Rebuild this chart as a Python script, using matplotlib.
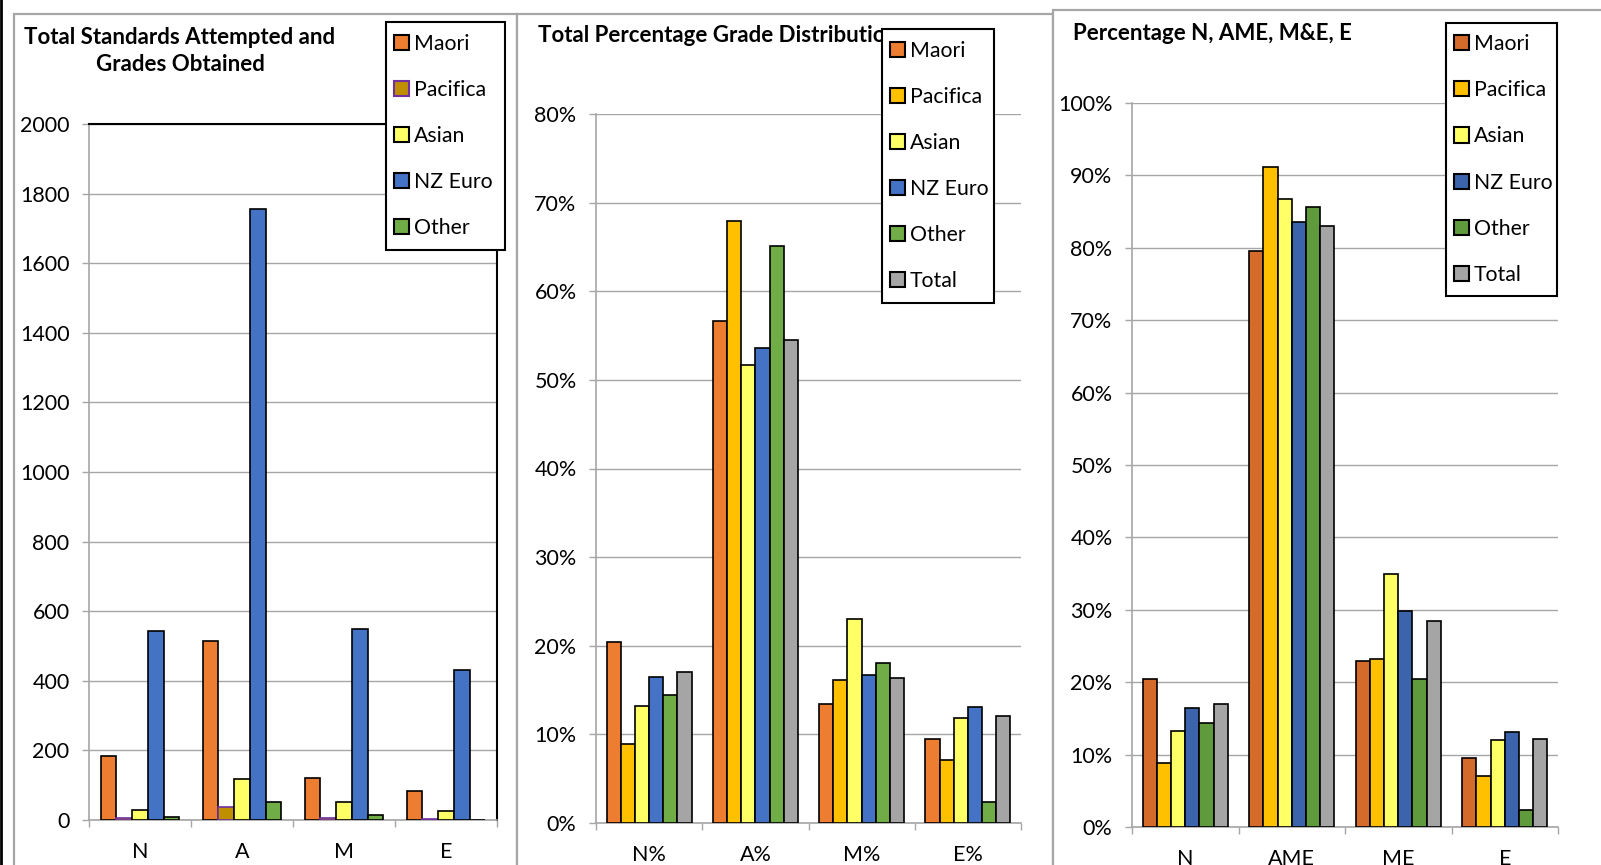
import matplotlib.pyplot as plt
from matplotlib.patches import Rectangle, Patch
from matplotlib.lines import Line2D

plt.rcParams['font.family'] = ['Lato', 'DejaVu Sans']

W, H = 1601, 865

# ---- data ----
series5 = ['Maori', 'Pacifica', 'Asian', 'NZ Euro', 'Other']
series6 = ['Maori', 'Pacifica', 'Asian', 'NZ Euro', 'Other', 'Total']

grades1 = ['N', 'A', 'M', 'E']
maori_cnt = [184, 513, 120, 84]
pacifica_cnt = [5, 37, 7, 3]
asian_cnt = [29, 118, 53, 27]
nzeuro_cnt = [544, 1756, 550, 432]
other_cnt = [10, 53, 14, 1]

grades2 = ['N%', 'A%', 'M%', 'E%']
maori_pct = [20.4, 56.6, 13.4, 9.5]
pacifica_pct = [8.9, 67.9, 16.1, 7.1]
asian_pct = [13.2, 51.7, 23.0, 11.9]
nzeuro_pct = [16.5, 53.6, 16.7, 13.1]
other_pct = [14.4, 65.1, 18.1, 2.4]
total_pct = [17.0, 54.5, 16.4, 12.1]

grades3 = ['N', 'AME', 'ME', 'E']
maori_grp = [20.4, 79.6, 22.9, 9.5]
pacifica_grp = [8.9, 91.1, 23.2, 7.1]
asian_grp = [13.2, 86.7, 35.0, 12.0]
nzeuro_grp = [16.5, 83.5, 29.9, 13.1]
other_grp = [14.4, 85.6, 20.4, 2.4]
total_grp = [17.0, 83.0, 28.5, 12.1]

colors1 = ['#ED7D31', '#BF8F00', '#FFFF66', '#4472C4', '#70AD47']
edges1 = ['black', '#7030A0', 'black', 'black', 'black']
colors2 = ['#ED7D31', '#FFC000', '#FFFF66', '#4472C4', '#70AD47', '#A5A5A5']
colors3 = ['#D46B2A', '#FFC000', '#FFFF66', '#3B64AD', '#5F9A3C', '#A5A5A5']

GRID = '#A6A6A6'

fig = plt.figure(figsize=(W / 100, H / 100), dpi=100)


def px_axes(left, top, right, bottom):
    return fig.add_axes([left / W, 1 - bottom / H, (right - left) / W, (bottom - top) / H])


def bars(ax, cats, data, colors, edges):
    n = len(data)
    w = 1 / (n + 1.5)
    xs = range(len(cats))
    for i, vals in enumerate(data):
        off = (i - (n - 1) / 2) * w
        ax.bar([x + off for x in xs], vals, width=w, color=colors[i],
               edgecolor=edges[i], linewidth=1.2, zorder=3)
    ax.set_xlim(-0.5, len(cats) - 0.5)
    ax.set_xticks([x - 0.5 for x in range(len(cats) + 1)])
    ax.set_xticklabels([])
    ax.set_xticks(list(xs), minor=True)
    ax.set_xticklabels(cats, minor=True)
    ax.tick_params(axis='x', which='major', length=5, color=GRID, width=1)
    ax.tick_params(axis='x', which='minor', length=0, pad=16, labelsize=15.5)
    ax.tick_params(axis='y', length=5, color=GRID, width=1, pad=9, labelsize=15.5)
    ax.grid(axis='y', color=GRID, linewidth=1, zorder=0)
    ax.set_axisbelow(True)
    for s in ['left', 'bottom']:
        ax.spines[s].set_color(GRID)
        ax.spines[s].set_linewidth(1.2)


def legend(names, colors, edges, x0, y0, x1, y1):
    # legend box drawn separately so its padding matches the original
    fig.add_artist(Rectangle((x0 / W, 1 - y1 / H), (x1 - x0) / W, (y1 - y0) / H,
                             transform=fig.transFigure, facecolor='white',
                             edgecolor='black', linewidth=1.5, zorder=9))
    handles = [Patch(facecolor=c, edgecolor=e, linewidth=1.5) for c, e in zip(colors, edges)]
    lg = fig.legend(handles, names, loc='center left',
                    bbox_to_anchor=(x0 / W, 1 - y1 / H, (x1 - x0) / W, (y1 - y0) / H),
                    bbox_transform=fig.transFigure, fontsize=15.3, frameon=False,
                    handlelength=0.72, handleheight=0.72, handletextpad=0.22,
                    labelspacing=1.23, borderpad=0.38, borderaxespad=0)
    lg.set_zorder(10)


# panel frames
fig.add_artist(Line2D([1 / W, 1 / W], [0, 1], color='black', linewidth=2, transform=fig.transFigure))
for x0, y0, x1 in [(14, 14, 517), (517, 14, 1053), (1053, 10, 1620)]:
    fig.add_artist(Rectangle((x0 / W, -0.1), (x1 - x0) / W, 1.1 - y0 / H, transform=fig.transFigure,
                             facecolor='white', edgecolor='#A6A6A6', linewidth=1.6, zorder=-1))

# panel 1
ax1 = px_axes(89, 124, 497, 820)
bars(ax1, grades1, [maori_cnt, pacifica_cnt, asian_cnt, nzeuro_cnt, other_cnt], colors1, edges1)
ax1.set_ylim(0, 2000)
ax1.set_yticks(range(0, 2001, 200))
for s in ['top', 'right']:
    ax1.spines[s].set_color('black')
    ax1.spines[s].set_linewidth(1.5)
fig.text(180 / W, 1 - 51 / H, 'Total Standards Attempted and\nGrades Obtained', ha='center', va='center',
         fontsize=16, fontweight='bold', linespacing=1.3, zorder=3)
legend(series5, colors1, edges1, 386, 22, 505, 250)

# panel 2
ax2 = px_axes(596, 114, 1021, 823)
bars(ax2, grades2, [maori_pct, pacifica_pct, asian_pct, nzeuro_pct, other_pct, total_pct],
     colors2, ['black'] * 6)
ax2.set_ylim(0, 80)
ax2.set_yticks(range(0, 81, 10))
ax2.set_yticklabels([f'{v}%' for v in range(0, 81, 10)])
ax2.spines['top'].set_visible(False)
ax2.spines['right'].set_visible(False)
fig.text(538 / W, 1 - 35 / H, 'Total Percentage Grade Distribution', ha='left', va='center',
         fontsize=16, fontweight='bold', zorder=3)
legend(series6, colors2, ['black'] * 6, 882, 29, 994, 303)

# panel 3
ax3 = px_axes(1132, 103, 1558, 827)
bars(ax3, grades3, [maori_grp, pacifica_grp, asian_grp, nzeuro_grp, other_grp, total_grp],
     colors3, ['black'] * 6)
ax3.set_ylim(0, 100)
ax3.set_yticks(range(0, 101, 10))
ax3.set_yticklabels([f'{v}%' for v in range(0, 101, 10)])
ax3.spines['top'].set_visible(False)
ax3.spines['right'].set_visible(False)
fig.text(1073 / W, 1 - 33 / H, 'Percentage N, AME, M&E, E', ha='left', va='center',
         fontsize=16, fontweight='bold', zorder=3)
legend(series6, colors3, ['black'] * 6, 1446, 23, 1557, 296)

fig.savefig('out.png', dpi=100)
